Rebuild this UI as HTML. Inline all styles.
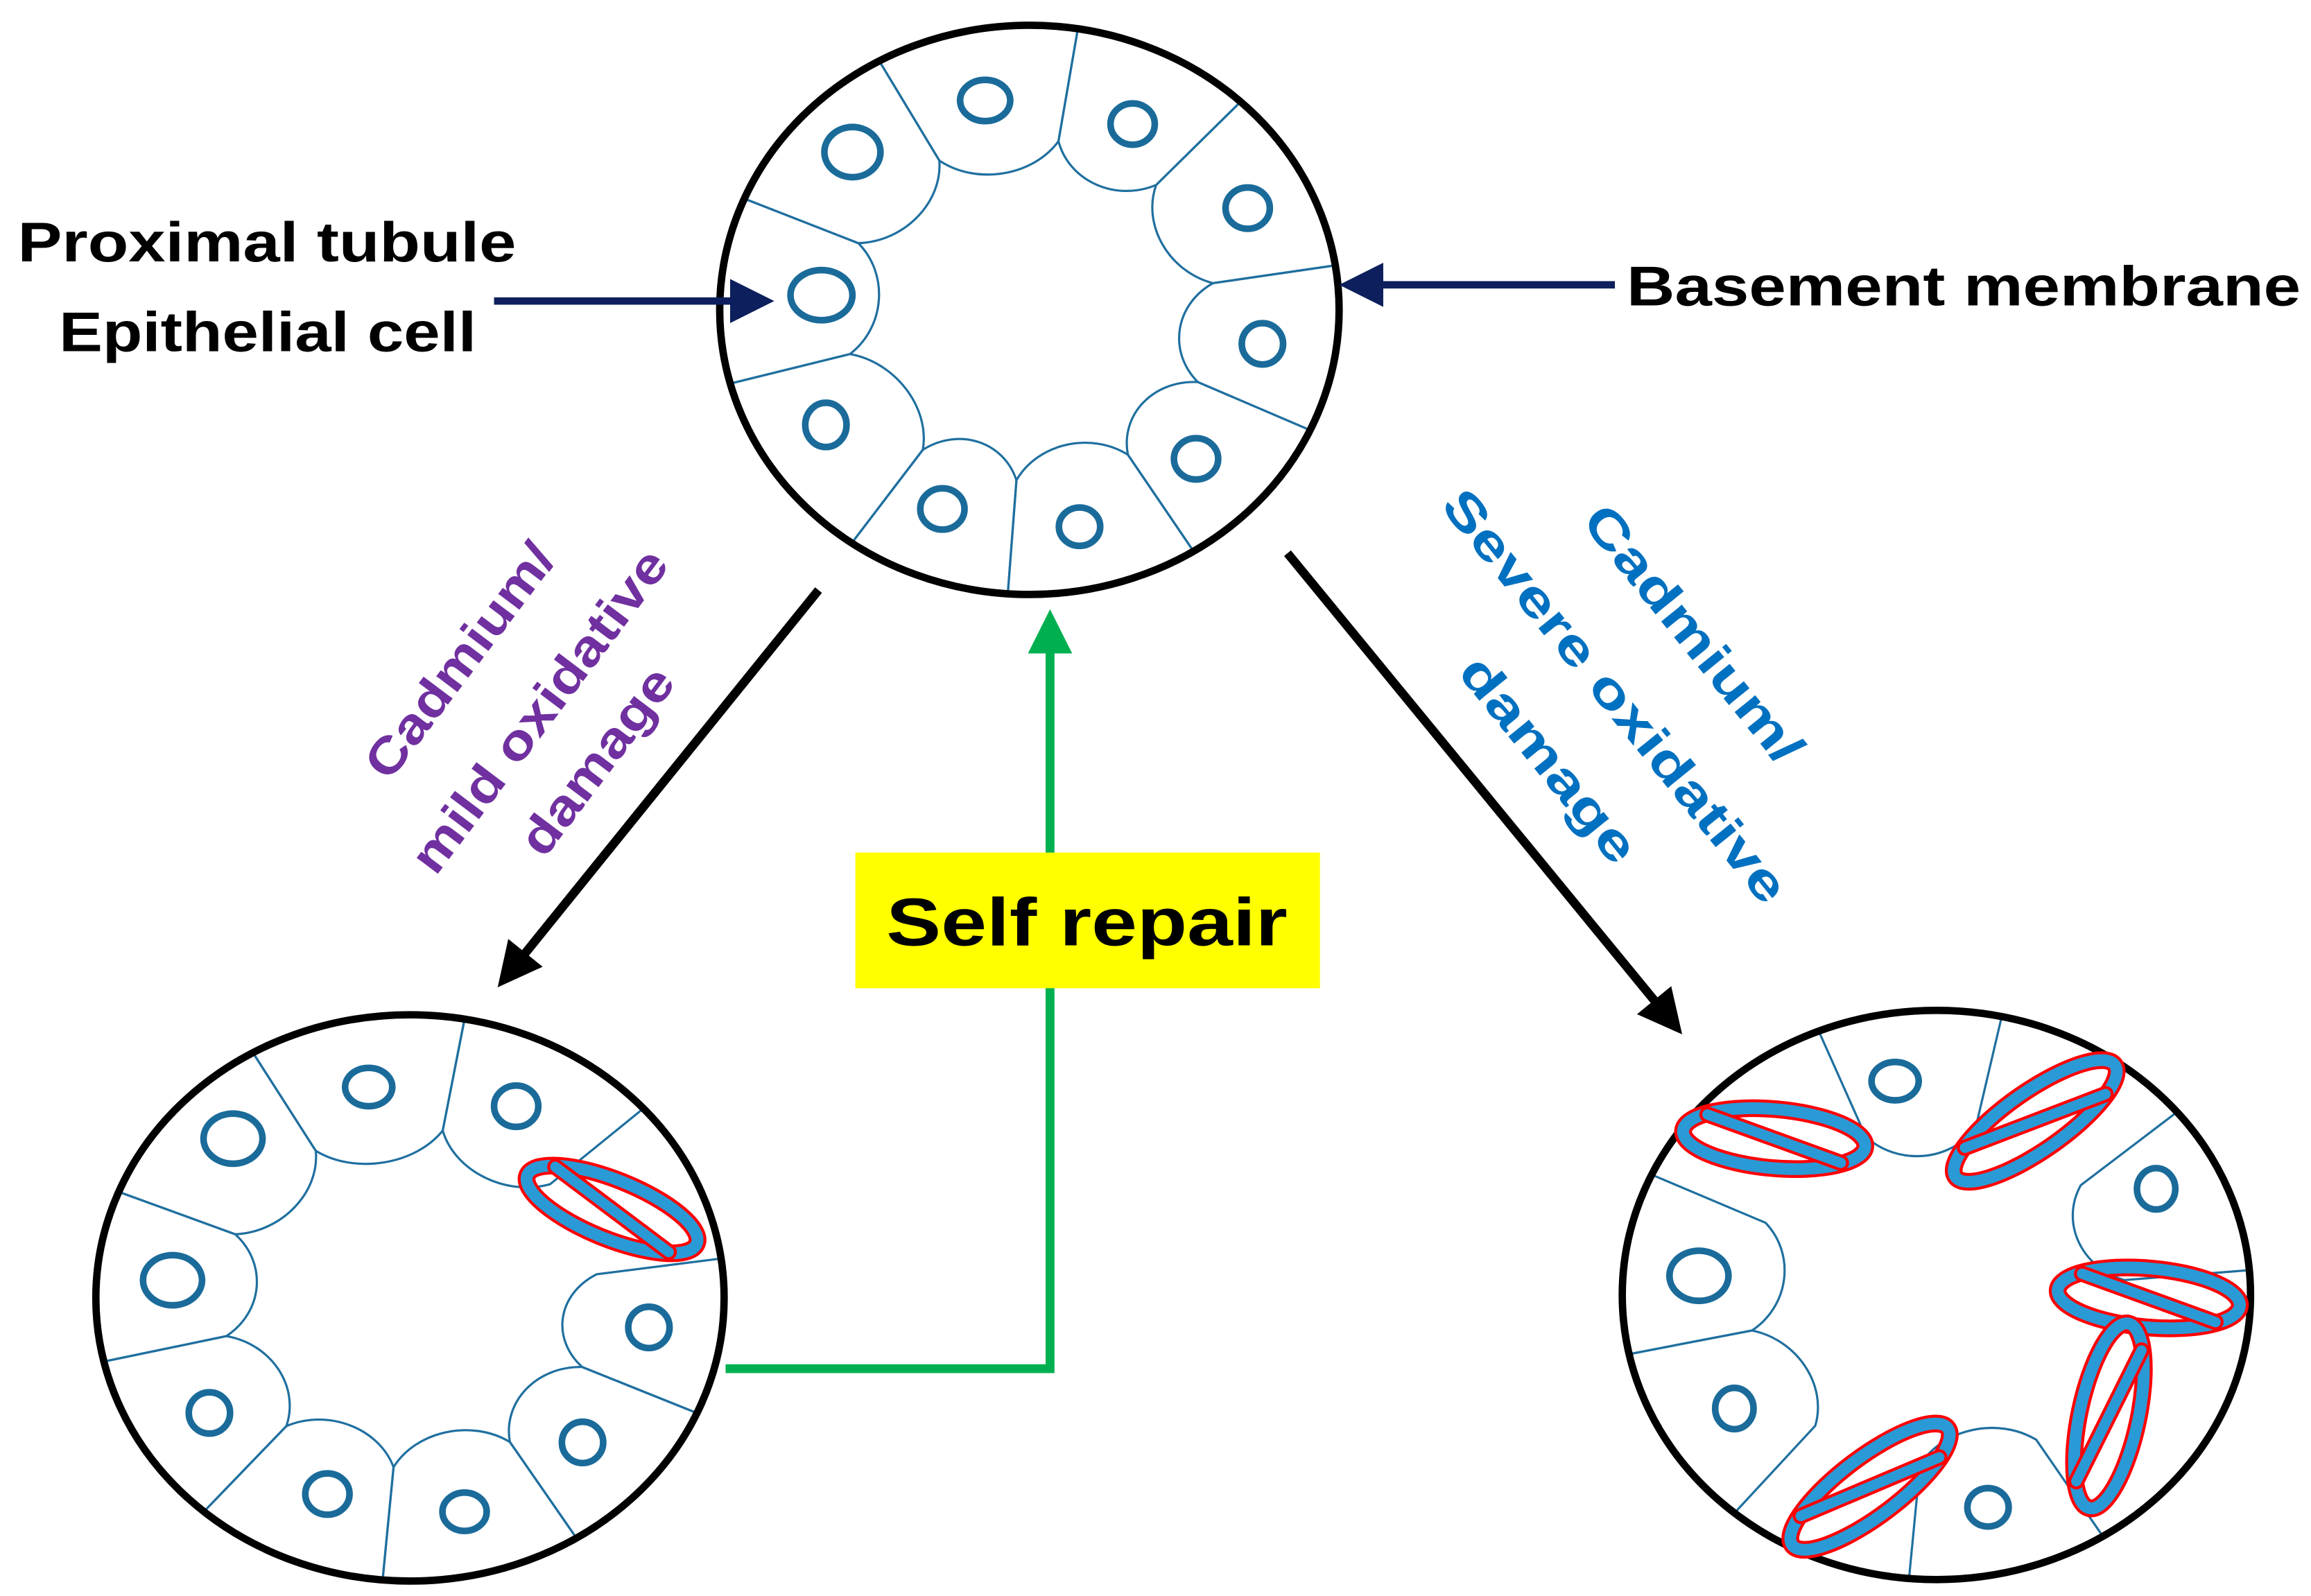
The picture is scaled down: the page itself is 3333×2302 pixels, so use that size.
<!DOCTYPE html>
<html><head><meta charset="utf-8"><style>html,body{margin:0;padding:0;background:#fff}svg{display:block}</style></head>
<body>
<svg id="s" xmlns="http://www.w3.org/2000/svg" width="3333" height="2302" viewBox="0 0 1567 1082">
<defs>
<marker id="an" markerWidth="6" markerHeight="6" refX="4" refY="3" orient="auto" markerUnits="strokeWidth"><path d="M0,0 L6,3 L0,6 z" fill="#0d1f5c"/></marker>
<marker id="ab" markerWidth="5" markerHeight="5" refX="3" refY="2.5" orient="auto" markerUnits="strokeWidth"><path d="M0,0 L5,2.5 L0,5 z" fill="#000"/></marker>
<marker id="ag" markerWidth="5" markerHeight="5" refX="3" refY="2.5" orient="auto" markerUnits="strokeWidth"><path d="M0,0 L5,2.5 L0,5 z" fill="#00b050"/></marker>
</defs>
<g id="cells" fill="none" stroke="#1f6f9f" stroke-width="1.5"></g>
<g fill="none" stroke="#000" stroke-width="5">
<ellipse cx="698" cy="210" rx="210" ry="193"/>
<ellipse cx="278" cy="880" rx="213" ry="192"/>
<ellipse cx="1313" cy="878" rx="213" ry="193"/>
</g>
<g fill="none" stroke="#1a6b9a" stroke-width="4.5">
<ellipse cx="578" cy="103" rx="19" ry="17"/><ellipse cx="668" cy="68" rx="17" ry="14"/><ellipse cx="768" cy="84" rx="15" ry="14"/>
<ellipse cx="846" cy="141" rx="15" ry="14"/><ellipse cx="856" cy="233" rx="14" ry="14"/><ellipse cx="811" cy="311" rx="15" ry="14"/>
<ellipse cx="732" cy="357" rx="14" ry="13"/><ellipse cx="639" cy="345" rx="15" ry="14"/><ellipse cx="560" cy="288" rx="14" ry="15"/>
<ellipse cx="557" cy="200" rx="21" ry="17"/>
<ellipse cx="158" cy="772" rx="20" ry="17"/><ellipse cx="250" cy="737" rx="16" ry="13"/><ellipse cx="350" cy="750" rx="15" ry="14"/>
<ellipse cx="440" cy="900" rx="14" ry="14"/><ellipse cx="395" cy="978" rx="14" ry="14"/><ellipse cx="315" cy="1025" rx="15" ry="13"/>
<ellipse cx="222" cy="1013" rx="15" ry="14"/><ellipse cx="142" cy="958" rx="14" ry="14"/><ellipse cx="117" cy="868" rx="20" ry="17"/>
<ellipse cx="1285" cy="733" rx="16" ry="13"/><ellipse cx="1462" cy="806" rx="13" ry="14"/><ellipse cx="1348" cy="1022" rx="14" ry="13"/>
<ellipse cx="1176" cy="955" rx="13" ry="14"/><ellipse cx="1152" cy="865" rx="20" ry="17"/>
</g>
<g id="dmg"></g>
<line x1="335" y1="204" x2="515" y2="204" stroke="#0d1f5c" stroke-width="5" marker-end="url(#an)"/>
<line x1="1095" y1="193" x2="918" y2="193" stroke="#0d1f5c" stroke-width="5" marker-end="url(#an)"/>
<line x1="555" y1="400" x2="345" y2="660" stroke="#000" stroke-width="6" marker-end="url(#ab)"/>
<line x1="873" y1="375" x2="1133" y2="692" stroke="#000" stroke-width="6" marker-end="url(#ab)"/>
<polyline points="492,928 712,928 712,425" fill="none" stroke="#00b050" stroke-width="6" marker-end="url(#ag)"/>
<rect x="580" y="578" width="315" height="92" fill="#ffff00"/>
<g font-family="Liberation Sans, sans-serif" font-weight="bold">
<text x="737" y="641" font-size="46" text-anchor="middle" textLength="272" lengthAdjust="spacingAndGlyphs">Self  repair</text>
<text x="12" y="177" font-size="38" textLength="338" lengthAdjust="spacingAndGlyphs">Proximal tubule</text>
<text x="40" y="238" font-size="38" textLength="283" lengthAdjust="spacingAndGlyphs">Epithelial cell</text>
<text x="1103" y="207" font-size="38" textLength="457" lengthAdjust="spacingAndGlyphs">Basement membrane</text>
<g fill="#7030a0" font-size="34" text-anchor="middle" dominant-baseline="central">
<text transform="translate(312,448) rotate(-53)" textLength="190" lengthAdjust="spacingAndGlyphs">Cadmium/</text>
<text transform="translate(366,482) rotate(-53)" textLength="265" lengthAdjust="spacingAndGlyphs">mild oxidative</text>
<text transform="translate(405,516) rotate(-53)" textLength="150" lengthAdjust="spacingAndGlyphs">damage</text>
</g>
<g fill="#0070c0" font-size="34" text-anchor="middle" dominant-baseline="central">
<text transform="translate(1148,430) rotate(51)" textLength="215" lengthAdjust="spacingAndGlyphs">Cadmium/</text>
<text transform="translate(1095,472) rotate(51)" textLength="350" lengthAdjust="spacingAndGlyphs">Severe oxidative</text>
<text transform="translate(1050,515) rotate(51)" textLength="170" lengthAdjust="spacingAndGlyphs">damage</text>
</g>
</g>
</svg>
<script>
(function(){
var NS="http://www.w3.org/2000/svg",g=document.getElementById("cells"),d=document.getElementById("dmg");
function P(cx,cy,rx,ry,a,r){a=a*Math.PI/180;return [cx+rx*r*Math.cos(a),cy+ry*r*Math.sin(a)];}
function seg(cx,cy,rx,ry,a1,a2){
 var o1=P(cx,cy,rx,ry,a1,0.99),i1=P(cx,cy,rx,ry,a1,0.6),o2=P(cx,cy,rx,ry,a2,0.99),i2=P(cx,cy,rx,ry,a2,0.6);
 var dd=(a2-a1);
 var c1=P(cx,cy,rx,ry,a1+dd*0.2,0.47),c2=P(cx,cy,rx,ry,a2-dd*0.2,0.47);
 var p=document.createElementNS(NS,"path");
 p.setAttribute("d","M"+o1+" L"+i1+" C"+c1+" "+c2+" "+i2+" L"+o2);
 g.appendChild(p);}
function circ(cx,cy,rx,ry,js,skip){for(var k=0;k<js.length;k++){if(skip&&skip.indexOf(k)>=0)continue;var a1=js[k],a2=js[(k+1)%js.length];if(a2<a1)a2+=360;seg(cx,cy,rx,ry,a1,a2);}}
circ(698,210,210,193,[-157,-119,-81,-47,-9,25,58,94,125,165]);
circ(278,880,213,192,[-158,-120,-80,-42,-8,24,58,95,131,167],[3]);
[[-112,-78],[-40,-5],[58,95],[130,168],[168,205]].forEach(function(s){seg(1313,878,213,193,s[0],s[1]);});
function dam(x,y,rot,rx,ry){
 var gg=document.createElementNS(NS,"g");gg.setAttribute("transform","translate("+x+","+y+") rotate("+rot+")");
 var L='M'+(-rx*0.75)+','+(-ry*0.62)+' L'+(rx*0.75)+','+(ry*0.62);
 gg.innerHTML='<ellipse rx="'+rx+'" ry="'+ry+'" fill="none" stroke="#ff0000" stroke-width="12"/>'+
 '<ellipse rx="'+rx+'" ry="'+ry+'" fill="none" stroke="#2a9ad6" stroke-width="8"/>'+
 '<path d="'+L+'" stroke="#ff0000" stroke-width="11" stroke-linecap="round"/>'+
 '<path d="'+L+'" stroke="#2a9ad6" stroke-width="7" stroke-linecap="round"/>';
 d.appendChild(gg);}
dam(415,820,22,62,20);
dam(1203,772,5,62,20);dam(1380,760,-35,66,20);dam(1457,880,5,62,20);dam(1430,960,-78,64,20);dam(1268,1008,-37,66,20);
})();
</script>
</body></html>
